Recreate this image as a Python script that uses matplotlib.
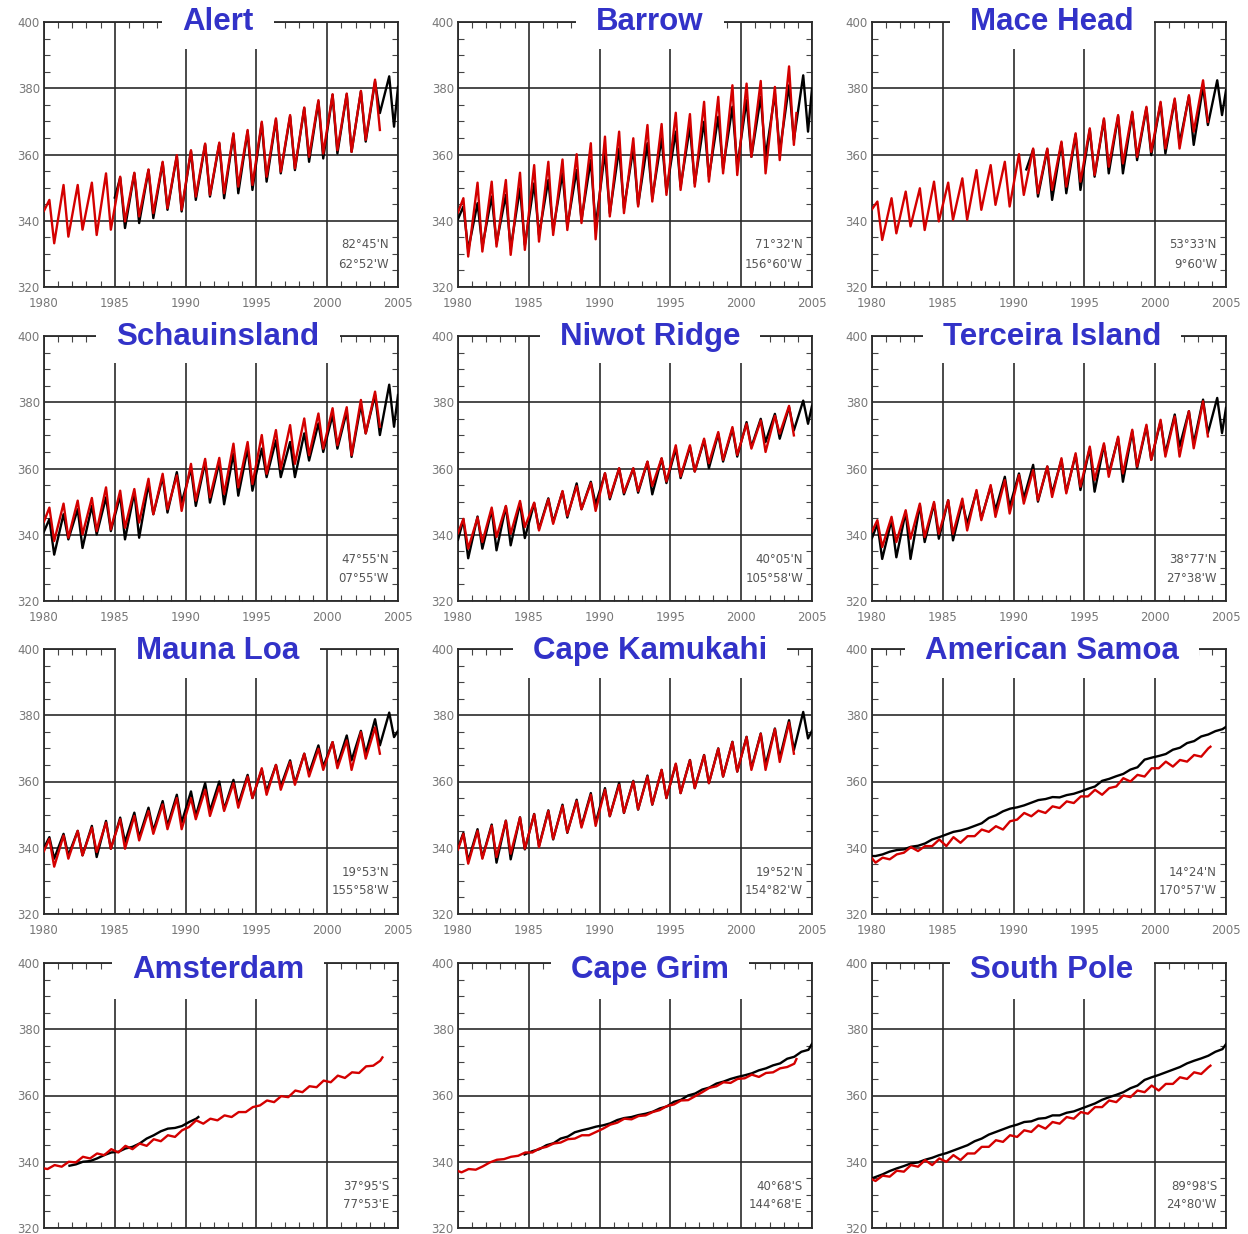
import matplotlib
matplotlib.use('Agg')
import matplotlib.pyplot as plt
from matplotlib.patches import Rectangle
from matplotlib.ticker import MultipleLocator

# ---- data: seasonal maxima (pk) and minima (tr) per year ----
alert_red_pk = [346.3, 350.8, 350.8, 351.5, 354.3, 353.3, 354.5, 355.5, 357.8, 359.8, 361.3, 363.3,
                363.6, 366.4, 367.4, 369.9, 370.9, 371.9, 374.2, 376.4, 378.2, 378.4, 379.2, 382.6]
alert_red_tr = [333.2, 335.2, 337.3, 335.7, 337.3, 339.8, 341.3, 342.3, 343.8, 343.3, 347.3, 347.8,
                348.3, 350.3, 350.8, 353.3, 354.8, 355.8, 359.3, 360.3, 361.3, 360.8, 364.4, 367.4]
alert_blk_pk = [353.0, 354.3, 355.3, 357.5, 359.5, 361.0, 363.0, 363.3, 366.0, 367.0, 369.5, 370.5,
                371.5, 374.0, 376.0, 378.0, 378.2, 379.0, 382.0, 383.6]
alert_blk_tr = [337.8, 339.3, 340.8, 343.3, 342.8, 346.3, 347.3, 346.8, 348.3, 349.3, 351.8, 354.3,
                355.3, 357.8, 358.8, 360.3, 360.8, 363.9, 372.5, 368.4]

barrow_red_pk = [346.8, 351.5, 351.8, 352.3, 354.5, 356.8, 357.8, 358.5, 360.1, 363.4, 365.4, 366.9,
                 364.9, 368.9, 369.2, 372.6, 372.2, 375.9, 377.4, 380.9, 381.4, 382.2, 380.4, 386.6]
barrow_red_tr = [329.2, 330.7, 332.2, 329.7, 331.2, 333.7, 335.7, 337.2, 339.3, 334.4, 341.3, 342.3,
                 344.3, 345.8, 347.8, 349.3, 350.3, 351.8, 354.3, 353.8, 359.3, 354.3, 358.3, 362.9]
barrow_blk_pk = [344.3, 345.3, 347.3, 347.8, 349.8, 351.3, 352.3, 354.3, 355.3, 358.3, 360.8, 361.8,
                 361.8, 363.4, 364.9, 366.9, 368.4, 369.9, 371.4, 374.4, 376.4, 377.4, 378.4, 380.9, 383.9]
barrow_blk_tr = [331.2, 332.2, 333.2, 331.7, 332.7, 335.7, 337.2, 338.3, 340.3, 338.3, 342.3, 343.8,
                 344.8, 346.8, 348.8, 350.3, 351.3, 353.3, 355.8, 356.3, 359.3, 359.3, 360.8, 364.4, 366.9]

mace_red_pk = [345.8, 346.8, 348.8, 349.8, 351.8, 351.5, 352.8, 355.3, 356.8, 357.8, 360.1, 361.8,
               361.8, 363.9, 366.4, 367.9, 370.9, 371.9, 372.9, 374.4, 375.9, 376.9, 377.9, 382.4]
mace_red_tr = [334.2, 336.2, 338.3, 337.2, 339.8, 340.3, 340.3, 343.3, 344.8, 344.3, 347.8, 348.3,
               349.3, 350.3, 351.8, 353.8, 356.3, 357.3, 359.3, 360.8, 361.8, 361.8, 366.9, 369.9]
mace_blk_pk = [361.5, 361.5, 363.5, 366.0, 367.5, 370.5, 371.5, 372.5, 374.0, 375.5, 376.5, 377.5, 380.5, 382.4]
mace_blk_tr = [347.3, 346.3, 348.3, 349.3, 353.3, 354.3, 354.3, 358.3, 359.8, 360.3, 363.4, 362.9, 368.9, 371.9]

schau_red_pk = [348.2, 349.4, 350.3, 351.1, 354.3, 353.3, 353.8, 356.9, 358.4, 357.9, 361.4, 362.9,
                363.2, 367.5, 368.0, 370.1, 371.6, 373.1, 375.1, 376.6, 378.2, 378.5, 380.7, 383.2]
schau_red_tr = [338.1, 339.1, 340.1, 341.1, 341.6, 342.1, 343.7, 346.2, 347.7, 347.2, 350.3, 351.3,
                352.3, 354.3, 355.3, 358.4, 359.9, 361.4, 364.0, 366.0, 367.0, 364.0, 370.6, 372.6]
schau_blk_pk = [344.7, 346.2, 347.7, 348.7, 351.3, 351.8, 352.8, 355.3, 357.4, 358.9, 359.9, 361.9,
                361.9, 364.5, 366.0, 366.0, 368.5, 368.0, 370.6, 373.6, 376.1, 377.2, 379.2, 382.2, 385.3]
schau_blk_tr = [334.0, 338.6, 336.0, 340.1, 341.1, 338.6, 339.1, 346.2, 346.7, 349.7, 348.7, 349.7,
                349.2, 351.8, 353.3, 357.4, 357.4, 357.4, 362.4, 365.0, 366.0, 363.5, 370.6, 370.1, 372.6]

niwot_red_pk = [344.8, 345.2, 348.2, 348.7, 350.2, 349.7, 350.7, 353.2, 354.7, 355.6, 358.6, 360.1,
                360.1, 362.1, 363.1, 367.0, 367.0, 369.0, 371.0, 372.5, 373.5, 374.5, 375.9, 378.9]
niwot_red_tr = [335.8, 337.8, 339.3, 340.3, 342.3, 341.3, 343.3, 345.7, 347.7, 347.2, 351.2, 352.7,
                353.2, 354.7, 356.1, 357.6, 359.1, 361.6, 362.6, 364.1, 366.0, 365.0, 370.5, 370.0]
niwot_blk_pk = [344.5, 345.5, 347.5, 348.5, 349.5, 349.5, 351.0, 353.0, 355.5, 356.0, 358.5, 360.0,
                360.0, 362.0, 363.0, 366.0, 366.5, 368.5, 370.5, 372.0, 374.0, 375.0, 376.5, 378.5, 380.5]
niwot_blk_tr = [332.9, 335.8, 335.3, 336.8, 339.0, 341.8, 343.8, 345.2, 347.7, 349.2, 350.7, 352.2,
                352.7, 352.2, 355.6, 357.1, 359.1, 360.1, 362.1, 363.6, 366.5, 368.0, 369.0, 371.5, 373.5]

terc_red_pk = [344.4, 345.4, 347.4, 349.4, 349.9, 350.4, 350.9, 353.5, 355.0, 356.5, 358.0, 359.5,
               360.6, 363.1, 364.6, 366.6, 367.6, 369.6, 371.7, 373.2, 374.7, 375.7, 377.3, 380.3]
terc_red_tr = [336.3, 337.8, 338.8, 339.3, 340.3, 340.3, 341.3, 344.4, 345.4, 346.4, 349.4, 350.4,
               351.4, 352.5, 354.5, 356.5, 357.5, 358.5, 360.6, 362.6, 363.6, 363.6, 366.1, 369.7]
terc_blk_pk = [343.3, 344.4, 346.9, 348.9, 349.4, 350.4, 349.9, 353.0, 354.5, 357.5, 358.5, 361.1,
               360.6, 362.6, 364.1, 366.1, 367.1, 369.2, 371.2, 372.7, 374.2, 376.3, 377.3, 380.8, 381.3]
terc_blk_tr = [332.7, 333.2, 332.7, 337.8, 338.8, 338.3, 343.3, 344.9, 347.4, 348.4, 351.0, 350.0,
               352.5, 353.0, 353.5, 353.0, 358.5, 356.0, 360.1, 362.6, 364.6, 366.6, 367.6, 370.7, 370.7]

mlo_red_pk = [342.7, 343.7, 345.1, 346.1, 347.6, 348.6, 349.6, 351.1, 353.1, 355.0, 355.0, 357.5,
              358.5, 359.5, 361.5, 364.0, 365.0, 365.9, 368.4, 369.9, 371.9, 372.4, 374.9, 376.3]
mlo_red_tr = [334.3, 336.7, 337.7, 338.7, 339.7, 339.7, 342.2, 344.2, 345.6, 345.6, 348.6, 349.6,
              351.1, 352.1, 355.0, 356.0, 357.5, 359.0, 361.5, 363.5, 364.0, 363.5, 366.9, 368.4]
mlo_blk_pk = [343.2, 344.2, 345.1, 346.6, 348.1, 349.1, 350.6, 352.1, 354.1, 356.0, 357.0, 359.5,
              360.0, 360.5, 362.0, 363.5, 365.0, 366.4, 368.4, 370.9, 371.9, 373.9, 375.3, 378.8, 380.8]
mlo_blk_tr = [336.7, 337.7, 337.7, 337.2, 339.7, 341.7, 343.2, 345.1, 346.6, 347.6, 349.6, 351.1,
              351.6, 353.1, 355.0, 357.0, 358.5, 359.5, 362.5, 364.5, 365.0, 366.4, 368.4, 370.9, 373.4]

kum_red_pk = [344.2, 345.1, 346.6, 348.1, 349.1, 350.1, 351.1, 352.6, 354.1, 356.0, 357.5, 359.0,
              360.0, 361.5, 363.5, 365.4, 366.4, 367.9, 369.9, 371.9, 373.4, 374.4, 375.8, 377.8]
kum_red_tr = [335.2, 336.7, 337.2, 338.2, 339.7, 340.2, 342.7, 344.7, 346.1, 346.6, 349.6, 350.6,
              351.6, 353.1, 355.0, 356.5, 358.0, 359.5, 361.5, 363.0, 363.5, 363.5, 365.9, 368.4]
kum_blk_pk = [344.5, 345.6, 347.0, 348.2, 349.2, 350.2, 351.3, 353.0, 354.5, 356.5, 358.0, 359.6,
              360.2, 361.8, 363.5, 365.2, 366.5, 368.0, 370.0, 372.0, 373.5, 374.5, 376.0, 378.5, 381.0]
kum_blk_tr = [336.0, 337.0, 335.5, 336.5, 339.5, 340.5, 342.5, 344.5, 346.5, 347.5, 349.5, 350.5,
              351.5, 353.0, 355.0, 356.5, 358.0, 359.5, 361.5, 363.0, 364.0, 365.0, 367.0, 369.5, 373.0]

smo_red_pk = [337.0, 338.0, 340.2, 340.5, 342.5, 343.2, 343.5, 345.5, 346.5, 348.0, 350.5, 351.2,
              352.5, 354.0, 355.5, 357.5, 358.0, 361.0, 362.0, 364.0, 366.0, 366.5, 368.0, 370.0]
smo_red_tr = [335.5, 336.5, 338.5, 339.0, 340.5, 340.5, 341.5, 343.5, 344.8, 345.5, 348.5, 349.5,
              350.5, 352.0, 353.5, 355.5, 356.0, 358.5, 360.0, 361.5, 364.0, 364.5, 366.0, 367.5]
smo_blk_pk = [338.0, 339.3, 340.3, 341.3, 343.2, 344.8, 345.8, 347.4, 349.8, 351.8, 352.8, 354.4,
              355.3, 355.9, 357.0, 358.5, 360.8, 362.3, 364.3, 367.2, 368.3, 370.2, 372.2, 374.2, 375.8]
smo_blk_tr = [337.5, 338.8, 339.5, 340.6, 342.5, 344.0, 345.2, 346.6, 349.0, 351.0, 352.2, 353.6,
              354.7, 355.2, 356.3, 357.8, 360.2, 361.6, 363.6, 366.6, 367.7, 369.6, 371.6, 373.6, 375.2]

ams_red_pk = [339.0, 340.0, 341.5, 342.5, 343.8, 344.8, 345.5, 346.8, 348.0, 349.5, 352.5, 353.0,
              354.0, 355.0, 356.5, 358.5, 359.8, 361.5, 362.8, 364.5, 366.0, 367.0, 368.8, 370.5]
ams_red_tr = [337.8, 338.5, 339.8, 341.0, 342.0, 342.8, 343.8, 344.8, 346.2, 347.5, 350.5, 351.5,
              352.5, 353.5, 355.0, 357.0, 358.0, 359.5, 361.0, 362.5, 364.0, 365.3, 366.8, 369.0]
ams_blk_pk = [340.0, 341.0, 342.8, 344.0, 345.5, 348.0, 350.0, 350.8, 353.0]
ams_blk_tr = [339.2, 340.2, 342.0, 343.0, 344.5, 347.0, 349.2, 350.2, 352.0]

cgo_red_pk = [337.8, 338.6, 340.6, 341.5, 342.8, 344.0, 345.5, 346.8, 348.0, 349.0, 351.2, 353.0,
              353.8, 355.0, 356.8, 358.5, 359.8, 362.3, 364.0, 365.0, 366.3, 366.8, 368.2, 369.6]
cgo_red_tr = [336.8, 337.6, 339.8, 340.8, 341.8, 342.8, 344.5, 345.8, 347.0, 348.0, 350.0, 351.8,
              352.8, 354.0, 355.6, 357.3, 358.6, 361.0, 362.8, 363.8, 365.2, 365.6, 367.0, 368.6]
cgo_blk_pk = [343.8, 345.6, 347.6, 349.5, 350.6, 351.6, 353.2, 354.1, 355.1, 356.7, 358.7, 360.6,
              362.4, 364.2, 365.6, 366.7, 368.2, 369.7, 371.7, 373.8]
cgo_blk_tr = [343.2, 345.0, 347.0, 348.9, 350.0, 351.0, 352.6, 353.5, 354.5, 356.1, 358.1, 360.0,
              361.8, 363.6, 365.0, 366.1, 367.6, 369.1, 371.1, 373.2]

spo_red_pk = [335.8, 337.3, 339.0, 340.5, 341.0, 342.0, 342.5, 344.5, 346.5, 348.0, 349.5, 351.0,
              352.0, 353.5, 355.0, 356.5, 358.5, 360.0, 361.5, 363.0, 363.5, 365.5, 367.0, 368.5]
spo_red_tr = [334.2, 335.5, 337.0, 338.5, 339.0, 340.0, 340.5, 342.5, 344.5, 346.0, 347.5, 349.0,
              350.0, 351.5, 353.0, 354.5, 356.5, 358.0, 359.5, 361.0, 361.5, 363.5, 365.0, 366.5]
spo_blk_pk = [336.2, 338.0, 339.5, 340.6, 342.0, 343.4, 345.0, 347.0, 349.0, 350.6, 352.0, 353.0,
              354.0, 354.8, 356.0, 357.6, 359.5, 361.0, 363.0, 365.5, 367.0, 368.6, 370.5, 372.0, 374.0]
spo_blk_tr = [335.4, 337.2, 338.7, 339.8, 341.2, 342.6, 344.2, 346.2, 348.2, 349.8, 351.2, 352.2,
              353.2, 354.0, 355.2, 356.8, 358.7, 360.2, 362.2, 364.7, 366.2, 367.8, 369.7, 371.2, 373.2]

north = (0.38, 0.72)
south = (0.75, 0.25)

# name, lat, lon, phase, red (start, pk, tr, head, tail), black (start, pk, tr, head, tail)
stations = [
    ("Alert", "82°45'N", "62°52'W", north,
     (1980, alert_red_pk, alert_red_tr, (1980.0, 343.0), None),
     (1985, alert_blk_pk, alert_blk_tr, (1985.0, 347.0), (2005.0, 380.4))),
    ("Barrow", "71°32'N", "156°60'W", north,
     (1980, barrow_red_pk, barrow_red_tr, (1980.0, 342.5), (2003.9, 372.5)),
     (1980, barrow_blk_pk, barrow_blk_tr, (1980.0, 340.5), (2005.0, 379.9))),
    ("Mace Head", "53°33'N", "9°60'W", north,
     (1980, mace_red_pk, mace_red_tr, (1980.0, 343.5), None),
     (1991, mace_blk_pk, mace_blk_tr, (1990.9, 355.5), (2005.0, 379.4))),
    ("Schauinsland", "47°55'N", "07°55'W", north,
     (1980, schau_red_pk, schau_red_tr, (1980.0, 344.0), None),
     (1980, schau_blk_pk, schau_blk_tr, (1980.0, 341.0), (2005.0, 382.2))),
    ("Niwot Ridge", "40°05'N", "105°58'W", north,
     (1980, niwot_red_pk, niwot_red_tr, (1980.0, 340.5), None),
     (1980, niwot_blk_pk, niwot_blk_tr, (1980.0, 338.5), (2005.0, 378.9))),
    ("Terceira Island", "38°77'N", "27°38'W", north,
     (1980, terc_red_pk, terc_red_tr, (1980.0, 341.0), None),
     (1980, terc_blk_pk, terc_blk_tr, (1980.0, 339.0), (2005.0, 378.3))),
    ("Mauna Loa", "19°53'N", "155°58'W", north,
     (1980, mlo_red_pk, mlo_red_tr, (1980.0, 339.0), None),
     (1980, mlo_blk_pk, mlo_blk_tr, (1980.0, 340.0), (2005.0, 375.3))),
    ("Cape Kamukahi", "19°52'N", "154°82'W", north,
     (1980, kum_red_pk, kum_red_tr, (1980.0, 339.5), None),
     (1980, kum_blk_pk, kum_blk_tr, (1980.0, 340.0), (2005.0, 375.3))),
    ("American Samoa", "14°24'N", "170°57'W", south,
     (1980, smo_red_pk, smo_red_tr, (1980.0, 336.8), (2003.9, 370.5)),
     (1980, smo_blk_pk, smo_blk_tr, (1980.0, 337.5), (2005.0, 376.5))),
    ("Amsterdam", "37°95'S", "77°53'E", south,
     (1980, ams_red_pk, ams_red_tr, (1980.0, 338.0), (2003.9, 371.5)),
     (1982, ams_blk_pk, ams_blk_tr, (1981.8, 338.8), (1990.9, 353.5))),
    ("Cape Grim", "40°68'S", "144°68'E", south,
     (1980, cgo_red_pk, cgo_red_tr, (1980.0, 337.2), (2003.9, 371.0)),
     (1985, cgo_blk_pk, cgo_blk_tr, (1984.7, 342.2), (2005.0, 375.6))),
    ("South Pole", "89°98'S", "24°80'W", south,
     (1980, spo_red_pk, spo_red_tr, (1980.0, 334.7), (2003.9, 369.0)),
     (1980, spo_blk_pk, spo_blk_tr, (1980.0, 335.0), (2005.0, 375.5))),
]


def build(start, pk, tr, head, tail, phase):
    pts = []
    if head:
        pts.append(head)
    for i in range(len(pk)):
        pts.append((start + i + phase[0], pk[i]))
        pts.append((start + i + phase[1], tr[i]))
    if tail:
        pts.append(tail)
    pts.sort()
    return [p[0] for p in pts], [p[1] for p in pts]


W, H = 1248, 1234
fig = plt.figure(figsize=(W / 100, H / 100), dpi=100)

col_left = [44, 458, 872]
row_top = [22, 336, 649, 963]
ax_w, ax_h = 354, 265
title_cx = [218, 650, 1052]
title_dy = [0, 1, 2, 7]
box_depth = [27, 27, 29, 36]

renderer = fig.canvas.get_renderer()

for k, (name, lat, lon, phase, red, blk) in enumerate(stations):
    r, c = divmod(k, 3)
    left, top = col_left[c], row_top[r]
    ax = fig.add_axes([left / W, 1 - (top + ax_h) / H, ax_w / W, ax_h / H])

    t, v = build(*blk, phase)
    ax.plot(t, v, color='black', lw=1.7, zorder=3)
    t, v = build(*red, phase)
    ax.plot(t, v, color='#d40000', lw=1.7, zorder=4)

    ax.set_xlim(1980, 2005)
    ax.set_ylim(320, 400)
    ax.set_xticks(range(1980, 2006, 5))
    ax.set_yticks([320, 340, 360, 380, 400])
    ax.xaxis.set_minor_locator(MultipleLocator(1))
    ax.yaxis.set_minor_locator(MultipleLocator(5))
    ax.tick_params(which='major', length=0, labelsize=8.5, labelcolor='#777777')
    ax.tick_params(axis='x', which='major', pad=7, labelbottom=(r < 3))
    ax.tick_params(axis='y', which='major', pad=3)
    ax.tick_params(which='minor', direction='in', length=4, width=0.8, color='#444444',
                   top=True, right=True)
    ax.grid(which='major', color='#2a2a2a', lw=1.2)
    for s in ax.spines.values():
        s.set_color('#2a2a2a')
        s.set_linewidth(1.3)

    ax.text(1 - 9 / ax_w, 42 / ax_h, lat, transform=ax.transAxes, ha='right', va='center',
            fontsize=8.5, color='#555555')
    ax.text(1 - 9 / ax_w, 23 / ax_h, lon, transform=ax.transAxes, ha='right', va='center',
            fontsize=8.5, color='#555555')

    # station title sitting in a white gap over the top frame
    ty = top + title_dy[r]
    txt = fig.text(title_cx[c] / W, 1 - ty / H, name, ha='center', va='center',
                   fontsize=22.5, fontweight='bold', family='Liberation Sans',
                   color='#3232c8', zorder=11)
    bb = txt.get_window_extent(renderer)
    x0, x1 = bb.x0 - 20, bb.x1 + 20
    y_bot = top + box_depth[r]
    y_top = top - 20
    fig.add_artist(Rectangle((x0 / W, 1 - y_bot / H), (x1 - x0) / W, (y_bot - y_top) / H,
                             transform=fig.transFigure, facecolor='white', edgecolor='none',
                             zorder=10))

fig.savefig('out.png', dpi=100)
